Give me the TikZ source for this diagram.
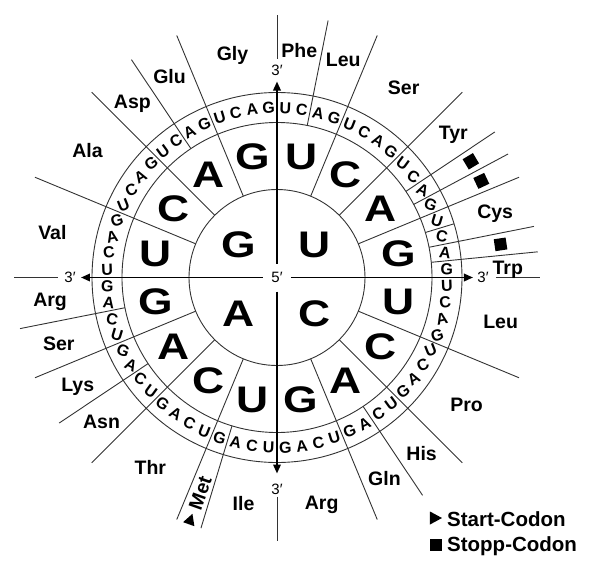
\documentclass[tikz,border=0pt]{standalone}
\usepackage{fontspec}
\setmainfont{Liberation Sans}
\newfontfamily\widebf{Liberation Sans}[FakeStretch=1.2]
\usetikzlibrary{arrows.meta}
\begin{document}
\begin{tikzpicture}[x=1pt,y=1pt,
  ring/.style={draw=black!80, line width=0.9pt},
  sep/.style={draw=black!80, line width=0.9pt},
  axisarrow/.style={draw=black, line width=1.8pt, -{Triangle[length=9pt,width=7.5pt]}},
  bigletter/.style={font=\widebf\bfseries\fontsize{37}{37}\selectfont, inner sep=0pt, text height=26.5pt, text depth=0pt},
  smallletter/.style={font=\bfseries\fontsize{16}{16}\selectfont, inner sep=0pt, text height=11.5pt, text depth=0pt},
  aalabel/.style={font=\bfseries\fontsize{19.5}{20}\selectfont, inner sep=0pt, text height=14pt, text depth=0pt},
  primelabel/.style={font=\fontsize{15}{15}\selectfont, inner sep=0pt, text height=10.5pt, text depth=0pt},
  stopsq/.style={fill=black, minimum size=12pt, inner sep=0pt},
  legendtext/.style={font=\bfseries\fontsize{20.5}{21}\selectfont, inner sep=0pt, anchor=base west},
]
\useasboundingbox (-277,-288.5) rectangle (321,277.5);
\coordinate (O) at (0,0);
% circles
\draw[ring] (O) circle[radius=88];
\draw[ring] (O) circle[radius=155];
\draw[ring] (O) circle[radius=185];
% second-base boundaries
\foreach \a in {22.5,45,67.5,112.5,135,157.5,202.5,225,247.5,292.5,315,337.5}
  \draw[sep] ({90-\a}:88) -- ({90-\a}:262);
% third-base boundaries
\foreach \a in {11.25,56.25,61.875,78.75,84.375,146.25,196.875,236.25,258.75,326.25}
  \draw[sep] ({90-\a}:155) -- ({90-\a}:262);
% small tick in ring
\draw[sep] ({90-73.125}:155) -- ({90-73.125}:185);
% axes
\node[primelabel] (five) at (O) {5′};
\foreach \d/\lr in {90/207.5, 0/206, 180/207, 270/212} {
  \draw[axisarrow] (\d:14) -- (\d:196);
  \node[primelabel] (three\d) at (\d:\lr) {3′};
  \draw[sep] (\d:219) -- (\d:263);
}
% first base
\node[bigletter] (fU) at (38,33) {U};
\node[bigletter] (fC) at (38,-36) {C};
\node[bigletter] (fA) at (-38,-36) {A};
\node[bigletter] (fG) at (-38,33) {G};
% second base
\foreach \j in {0,...,15} {
  \pgfmathsetmacro\ang{(\j+0.5)*22.5}
  \pgfmathtruncatemacro\kk{mod(\j,4)}
  \node[bigletter] (s\j) at ({90-\ang}:124) {\ifcase\kk U\or C\or A\or G\fi};
}
% third base
\foreach \i in {0,...,63} {
  \pgfmathsetmacro\ang{(\i+0.5)*5.625}
  \pgfmathsetmacro\tmod{mod(\ang,90)}
  \pgfmathsetmacro\mm{0.85*min(\tmod,90-\tmod)}
  \pgfmathtruncatemacro\qq{mod(floor(\ang/90),2)}
  \pgfmathsetmacro\rot{\qq==0 ? -\mm : \mm}
  \pgfmathtruncatemacro\jj{mod(\i,4)}
  \node[smallletter, rotate=\rot] (t\i) at ({90-\ang}:170) {\ifcase\jj U\or C\or A\or G\fi};
}
% amino acids
\foreach \a/\r/\t [count=\n] in {5.625/228/Phe, 16.875/228/Leu, 33.75/228/Ser, 50.625/228/Tyr,
  73.125/228/Cys, 87.4/231/Trp, 101.25/228/Leu, 123.75/228/Pro, 140.625/228/His,
  151.875/228/Gln, 168.75/229/Arg, 188.4375/228/Ile, 213.75/228/Thr, 230.625/227/Asn,
  241.875/226/Lys, 253.125/228/Ser, 264.375/228/Arg, 281.25/229/Val, 303.75/228/Ala,
  320.625/228/Asp, 331.875/228/Glu, 348.75/228/Gly}
  \node[aalabel] (aa\n) at ({90-\a}:\r) {\t};
% stop codons
\foreach \a [count=\n] in {59.0625, 64.6875, 81.5625}
  \node[stopsq, rotate=90-\a] (stop\n) at ({90-\a}:226) {};
% Met and start
\node[aalabel, rotate=70.31] (met) at ({90-199.6875}:229) {Met};
\fill[shift={({90-199.6875}:257)}, rotate=70.31] (6,0) -- (-5,6) -- (-5,-6) -- cycle;
% legend
\fill[shift={(159,-240.5)}] (6,0) -- (-6,6.5) -- (-6,-6.5) -- cycle;
\node[legendtext] (lstart) at (170,-249.2) {Start-Codon};
\node[stopsq, minimum size=12.5pt] (lsq) at (159,-267.5) {};
\node[legendtext] (lstop) at (170,-274.2) {Stopp-Codon};
\end{tikzpicture}
\end{document}
